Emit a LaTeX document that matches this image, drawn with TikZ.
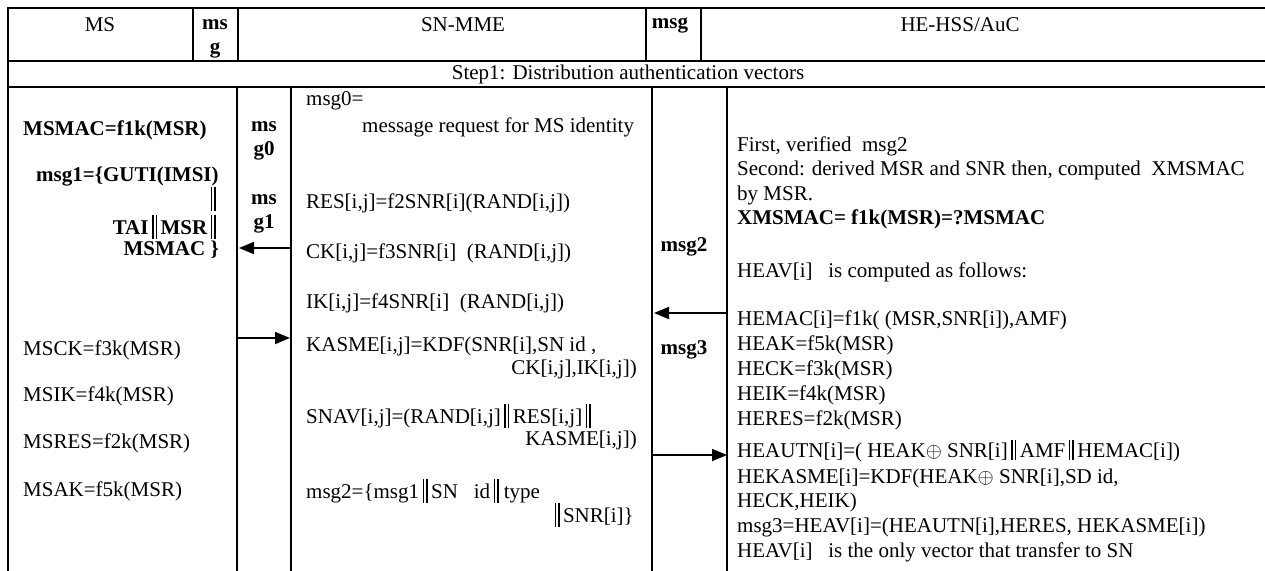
\documentclass[tikz,border=0pt]{standalone}
\usepackage{fontspec}
\setmainfont{Liberation Serif}
\usetikzlibrary{arrows.meta}
\newcommand\dbar{\rule[-0.2em]{0.07em}{1.12em}\hspace{0.1em}\rule[-0.2em]{0.07em}{1.12em}}
\newcommand\sdbar{\rule[-0.12em]{0.07em}{0.98em}\hspace{0.1em}\rule[-0.12em]{0.07em}{0.98em}}
\begin{document}
\begin{tikzpicture}[x=1pt,y=-1pt,
  frame/.style={line width=2pt,line cap=rect},
  txt/.style={inner sep=0pt,font=\fontsize{21}{24}\selectfont},
  lt/.style={txt,anchor=west},
  rt/.style={txt,anchor=east},
  ct/.style={txt,anchor=center,align=center},
  msgarrow/.style={line width=1.8pt,-{Triangle[length=15pt,width=12pt]}}]
\useasboundingbox (0,0) rectangle (1265,570);
% frame
\draw[frame] (8,8) -- (1266,8);
\draw[frame] (8,61) -- (1266,61);
\draw[frame] (8,87) -- (1266,87);
\draw[frame] (8,8) -- (8,571);
\draw[frame] (193,8) -- (193,61);
\draw[frame] (238,8) -- (238,61);
\draw[frame] (646,8) -- (646,61);
\draw[frame] (701,8) -- (701,61);
\draw[frame] (237,87) -- (237,571);
\draw[frame] (291,87) -- (291,571);
\draw[frame] (652,87) -- (652,571);
\draw[frame] (727,87) -- (727,571);
% header
\node[ct] (hMS) at (100,25) {MS};
\node[ct] (hmsg1) at (215,39) {\textbf{ms}\\\textbf{g}};
\node[ct] (hSN) at (463,25) {SN-MME};
\node[ct] (hmsg2) at (670,25) {\textbf{msg}};
\node[ct] (hHE) at (960,25) {HE-HSS/AuC};
\node[ct] (step) at (628,74) {Step1: Distribution authentication vectors};
% MS column
\node[lt] (l1) at (23,130) {\textbf{MSMAC=f1k(MSR)}};
\node[lt] (l2) at (36,177) {\textbf{msg1=\{GUTI(IMSI)}};
\node[rt] (l3) at (216,199) {\textbf{\dbar}};
\node[rt] (l4) at (216,227) {\textbf{TAI\,\dbar\,MSR\,\dbar}};
\node[rt] (l5) at (219,250) {\textbf{MSMAC\ \}}};
\node[lt] (l6) at (23,350) {MSCK=f3k(MSR)};
\node[lt] (l7) at (23,396) {MSIK=f4k(MSR)};
\node[lt] (l8) at (23,443) {MSRES=f2k(MSR)};
\node[lt] (l9) at (23,491) {MSAK=f5k(MSR)};
% msg column 1
\node[ct] (m0) at (264,141) {\textbf{ms}\\\textbf{g0}};
\node[ct] (m1) at (264,214) {\textbf{ms}\\\textbf{g1}};
% SN column
\node[lt] (s1) at (306,101) {msg0=};
\node[lt] (s2) at (362,127) {message request for MS identity};
\node[lt] (s3) at (306,203) {RES[i,j]=f2SNR[i](RAND[i,j])};
\node[lt] (s4) at (306,253) {CK[i,j]=f3SNR[i]\ \ (RAND[i,j])};
\node[lt] (s5) at (306,303) {IK[i,j]=f4SNR[i]\ \ (RAND[i,j])};
\node[lt] (s6) at (306,346) {KASME[i,j]=KDF(SNR[i],SN id ,};
\node[rt] (s7) at (637,369) {CK[i,j],IK[i,j])};
\node[lt] (s8) at (306,416) {SNAV[i,j]=(RAND[i,j]\,\dbar\,RES[i,j]\,\dbar};
\node[rt] (s9) at (637,440) {KASME[i,j])};
\node[lt] (s10) at (306,491) {msg2=\{msg1\,\dbar\,SN\ \ \ id\,\dbar\ type};
\node[rt] (s11) at (634,515) {\dbar\,SNR[i]\}};
% msg column 2
\node[ct] (m2) at (684,247) {\textbf{msg2}};
\node[ct] (m3) at (684,350) {\textbf{msg3}};
% HE column
\node[lt] (h1) at (737,146) {First, verified\ \ msg2};
\node[lt] (h2) at (737,170) {Second: derived MSR and SNR then, computed\ \ XMSMAC};
\node[lt] (h3) at (737,195) {by MSR.};
\node[lt] (h4) at (737,219) {\textbf{XMSMAC= f1k(MSR)=?MSMAC}};
\node[lt] (h5) at (737,272) {HEAV[i]\ \ \ is computed as follows:};
\node[lt] (h6) at (737,320) {HEMAC[i]=f1k( (MSR,SNR[i]),AMF)};
\node[lt] (h7) at (737,345) {HEAK=f5k(MSR)};
\node[lt] (h8) at (737,370) {HECK=f3k(MSR)};
\node[lt] (h9) at (737,395) {HEIK=f4k(MSR)};
\node[lt] (h10) at (737,420) {HERES=f2k(MSR)};
\node[lt] (h11) at (737,451) {HEAUTN[i]=( HEAK$\oplus$ SNR[i]\,\sdbar\,AMF\,\sdbar\,HEMAC[i])};
\node[lt] (h12) at (737,478) {HEKASME[i]=KDF(HEAK$\oplus$ SNR[i],SD id,};
\node[lt] (h13) at (737,502) {HECK,HEIK)};
\node[lt] (h14) at (737,527) {msg3=HEAV[i]=(HEAUTN[i],HERES, HEKASME[i])};
\node[lt] (h15) at (737,552) {HEAV[i]\ \ \ is the only vector that transfer to SN};
% arrows
\coordinate (a1s) at (290,248);
\coordinate (a1e) at (239,248);
\coordinate (a2s) at (238,338);
\coordinate (a2e) at (290,338);
\coordinate (a3s) at (726,313);
\coordinate (a3e) at (654,313);
\coordinate (a4s) at (653,455);
\coordinate (a4e) at (727,455);
\draw[msgarrow] (a1s) -- (a1e);
\draw[msgarrow] (a2s) -- (a2e);
\draw[msgarrow] (a3s) -- (a3e);
\draw[msgarrow] (a4s) -- (a4e);
\end{tikzpicture}
\end{document}
